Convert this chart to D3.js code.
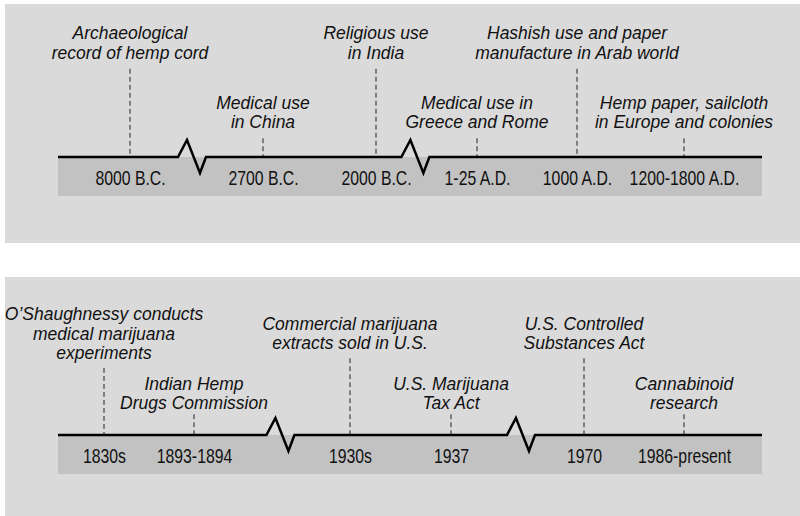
<!DOCTYPE html>
<html>
<head>
<meta charset="utf-8">
<script src="https://cdn.jsdelivr.net/npm/d3@7"></script>
<style>
  body { margin: 0; background: #fff; }
</style>
</head>
<body>
<div id="timeline"></div>
<script>
// --- data: ancient timeline
var ancientDates = ["8000 B.C.", "2700 B.C.", "2000 B.C.", "1-25 A.D.", "1000 A.D.", "1200-1800 A.D."];
var ancientEvents = [
  ["Archaeological", "record of hemp cord"],
  ["Medical use", "in China"],
  ["Religious use", "in India"],
  ["Medical use in", "Greece and Rome"],
  ["Hashish use and paper", "manufacture in Arab world"],
  ["Hemp paper, sailcloth", "in Europe and colonies"]
];
// axis breaks, in event-index units (break falls between two events)
var ancientBreaks = [0.466, 2.39];

// --- data: modern timeline
var modernDates = ["1830s", "1893-1894", "1930s", "1937", "1970", "1986-present"];
var modernEvents = [
  ["O\u2019Shaughnessy conducts", "medical marijuana", "experiments"],
  ["Indian Hemp", "Drugs Commission"],
  ["Commercial marijuana", "extracts sold in U.S."],
  ["U.S. Marijuana", "Tax Act"],
  ["U.S. Controlled", "Substances Act"],
  ["Cannabinoid", "research"]
];
var modernBreaks = [1.554, 3.526];

// layout
var W = 800, H = 516;
var lineLeft = 58, lineRight = 762;
var lineH = 19.5;

var panels = [
  { dates: ancientDates, events: ancientEvents, breaks: ancientBreaks,
    top: 4, height: 239, axisY: 157,
    stops: [130, 263, 376, 477, 577, 684],
    center: [49, 118.5], gap: [10, 10] },
  { dates: modernDates, events: modernEvents, breaks: modernBreaks,
    top: 277, height: 239, axisY: 435,
    stops: [104, 194, 350, 451, 584, 684],
    center: [339.5, 399.5], gap: [9, 5] }
];

var svg = d3.select("#timeline")
  .append("svg")
    .attr("width", W)
    .attr("height", H);

panels.forEach(function(p) {
  var g = svg.append("g");

  // piecewise scale: event index -> x along the broken axis
  var x = d3.scaleLinear()
    .domain(d3.range(p.dates.length))
    .range(p.stops);

  // panel background
  g.append("rect")
    .attr("x", 5)
    .attr("y", p.top)
    .attr("width", W - 5)
    .attr("height", p.height)
    .attr("fill", "#dadada");

  // darker band under the line
  g.append("rect")
    .attr("x", lineLeft)
    .attr("y", p.axisY)
    .attr("width", lineRight - lineLeft)
    .attr("height", 39)
    .attr("fill", "#c2c2c2");

  // date labels via axis (condensed look: squeeze horizontally)
  var axis = g.append("g")
    .attr("transform", "translate(0," + p.axisY + ")")
    .call(d3.axisBottom(x)
      .tickValues(d3.range(p.dates.length))
      .tickFormat(function(i) { return p.dates[i]; })
      .tickSize(0)
      .tickPadding(13.5));
  axis.select(".domain").remove();
  axis.selectAll("text")
    .attr("font-family", "'Liberation Sans', Arial, sans-serif")
    .attr("font-size", "20px")
    .attr("fill", "#111")
    .attr("transform", "scale(0.79,1)");

  // annotations
  p.events.forEach(function(lines, i) {
    var lvl = i % 2;
    var n = lines.length;
    var first = p.center[lvl] - (n - 1) * lineH / 2;
    var last = first + (n - 1) * lineH;

    // dashed leader
    g.append("line")
      .attr("x1", x(i)).attr("x2", x(i))
      .attr("y1", last + p.gap[lvl])
      .attr("y2", p.axisY)
      .attr("stroke", "#444")
      .attr("stroke-width", 1.2)
      .attr("stroke-dasharray", "5,3");

    var t = g.append("text")
      .attr("text-anchor", "middle")
      .attr("font-family", "'Liberation Sans', Arial, sans-serif")
      .attr("font-style", "italic")
      .attr("font-size", "17.5px")
      .attr("fill", "#111");
    lines.forEach(function(s, k) {
      t.append("tspan")
        .attr("x", x(i))
        .attr("y", first + k * lineH)
        .text(s);
    });
  });

  // main line with zigzag breaks
  var pts = [[lineLeft, p.axisY]];
  p.breaks.forEach(function(b) {
    var cx = x(b), y = p.axisY;
    pts.push([cx - 14, y], [cx - 5, y - 17], [cx + 8, y + 16], [cx + 14, y]);
  });
  pts.push([lineRight, p.axisY]);

  g.append("path")
    .attr("d", d3.line()(pts))
    .attr("fill", "none")
    .attr("stroke", "#000")
    .attr("stroke-width", 2.5)
    .attr("stroke-linejoin", "miter");
});
</script>
</body>
</html>
